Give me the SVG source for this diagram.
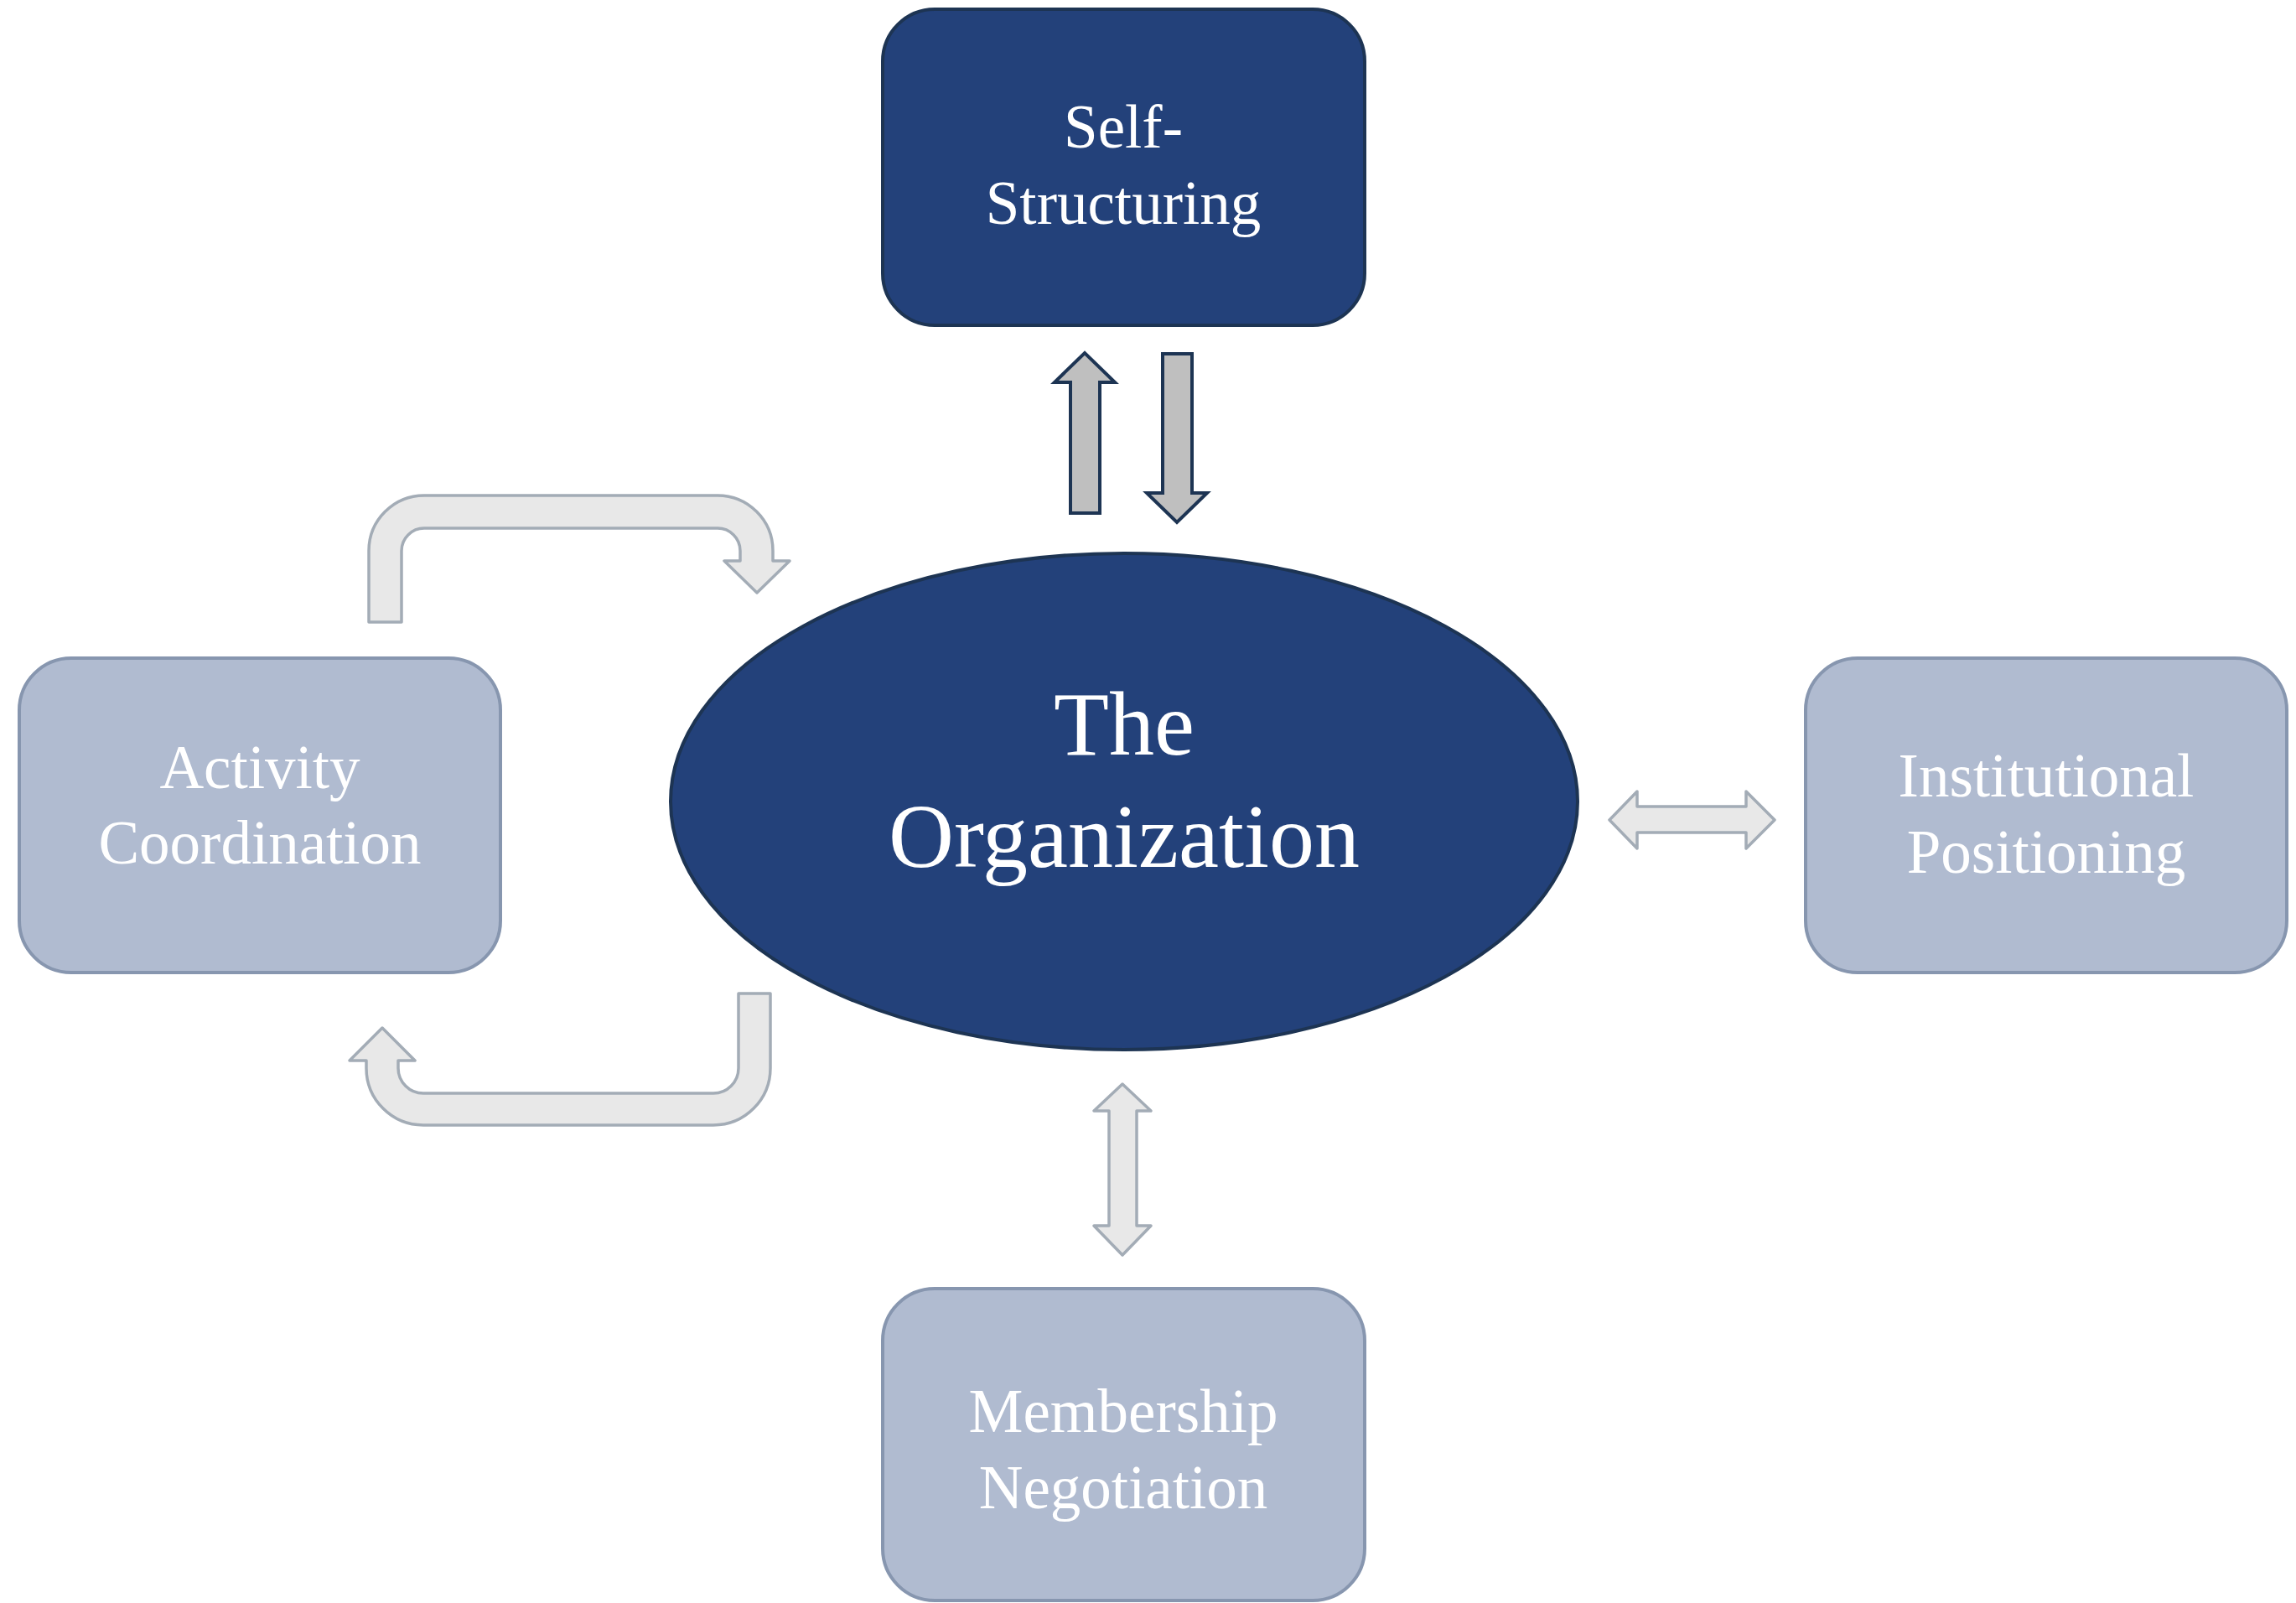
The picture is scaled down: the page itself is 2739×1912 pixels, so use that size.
<svg xmlns="http://www.w3.org/2000/svg" width="2739" height="1912" viewBox="0 0 2739 1912">
<style>
.dark{fill:#23417A;stroke:#1D3453;stroke-width:4}
.light{fill:#B0BBD0;stroke:#8796AF;stroke-width:4}
.t{font-family:"Liberation Serif","Times New Roman",serif;fill:#FFFFFF;text-anchor:middle}
.box{font-size:73px}
.big{font-size:108px}
.ga{fill:#BFBFBF;stroke:#1D3453;stroke-width:4;stroke-linejoin:miter}
.la{fill:#E8E8E8;stroke:#A3ACB6;stroke-width:3.5;stroke-linejoin:round}
</style>
<rect width="2739" height="1912" fill="#FFFFFF"/>
<g id="connectors">
<path class="ga" d="M1277 612 L1277 456 L1258 456 L1294 421 L1330 456 L1312 456 L1312 612 Z"/>
<path class="ga" d="M1387 422 L1422 422 L1422 588 L1440 588 L1404 623 L1368 588 L1387 588 Z"/>
<path class="la" d="M1920 978 L1953 944 L1953 962 L2083 962 L2083 944 L2117 978 L2083 1012 L2083 993 L1953 993 L1953 1012 Z"/>
<path class="la" d="M1339 1293 L1373 1325 L1356 1325 L1356 1462 L1373 1462 L1339 1497 L1305 1462 L1323 1462 L1323 1325 L1305 1325 Z"/>
<path class="la" d="M440 742 L440 657 A66 66 0 0 1 506 591 L856 591 A66 66 0 0 1 922 657 L922 669 L942 669 L903 707 L864 669 L883 669 L883 657 A27 27 0 0 0 856 630 L506 630 A27 27 0 0 0 479 657 L479 742 Z"/>
<path class="la" d="M881 1185 L919 1185 L919 1274 A68 68 0 0 1 851 1342 L505 1342 A68 68 0 0 1 437 1274 L437 1265 L417 1265 L456 1226 L495 1265 L475 1265 L475 1274 A30 30 0 0 0 505 1304 L851 1304 A30 30 0 0 0 881 1274 Z"/>
</g>
<g id="self-structuring">
<rect class="dark" x="1053" y="11" width="575" height="377" rx="62" ry="62"/>
<text class="t box" x="1340" y="176">Self-</text>
<text class="t box" x="1340" y="267">Structuring</text>
</g>
<g id="organization">
<ellipse class="dark" cx="1341" cy="956" rx="541" ry="296"/>
<text class="t big" x="1341" y="900">The</text>
<text class="t big" x="1341" y="1034">Organization</text>
</g>
<g id="activity-coordination">
<rect class="light" x="23" y="785" width="574" height="375" rx="62" ry="62"/>
<text class="t box" x="310" y="940">Activity</text>
<text class="t box" x="310" y="1030">Coordination</text>
</g>
<g id="institutional-positioning">
<rect class="light" x="2154" y="785" width="574" height="375" rx="62" ry="62"/>
<text class="t box" x="2441" y="950">Institutional</text>
<text class="t box" x="2441" y="1041">Positioning</text>
</g>
<g id="membership-negotiation">
<rect class="light" x="1053" y="1537" width="575" height="372" rx="62" ry="62"/>
<text class="t box" x="1340" y="1708">Membership</text>
<text class="t box" x="1340" y="1799">Negotiation</text>
</g>
</svg>
